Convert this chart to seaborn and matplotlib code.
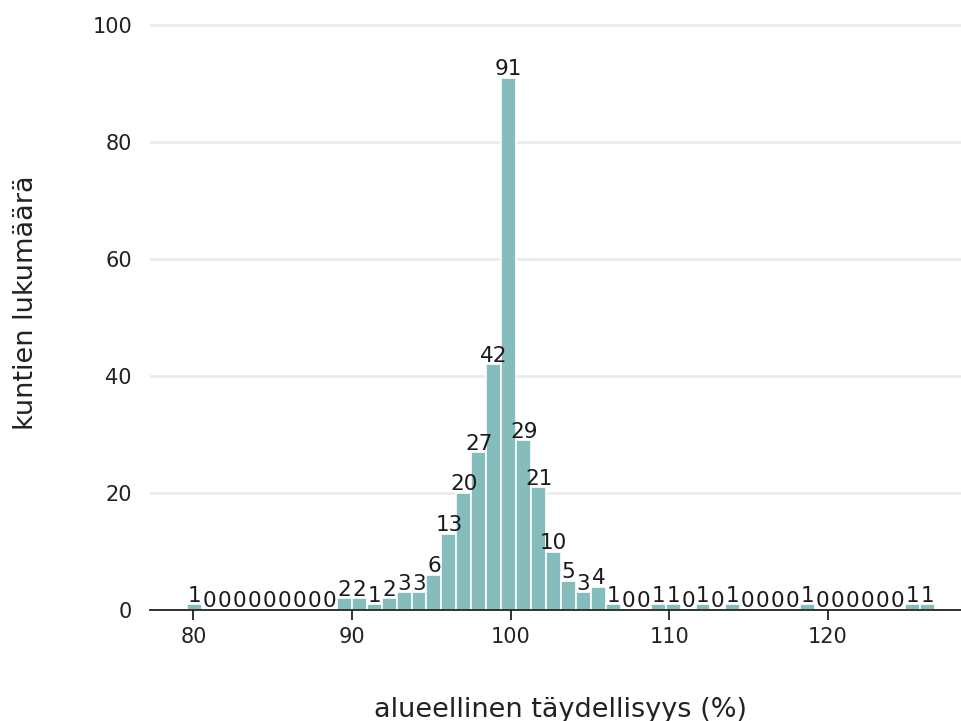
import numpy as np
import pandas as pd
import seaborn as sns
import matplotlib
matplotlib.use("Agg")
import matplotlib.pyplot as plt

# Histogram data: 50 bins between the data extremes
range_min = 79.62
range_max = 126.73
counts = [1, 0, 0, 0, 0, 0, 0, 0, 0, 0,
          2, 2, 1, 2, 3, 3, 6, 13, 20, 27,
          42, 91, 29, 21, 10, 5, 3, 4, 1, 0,
          0, 1, 1, 0, 1, 0, 1, 0, 0, 0,
          0, 1, 0, 0, 0, 0, 0, 0, 1, 1]
n_bins = len(counts)
edges = np.linspace(range_min, range_max, n_bins + 1)
centers = (edges[:-1] + edges[1:]) / 2
df = pd.DataFrame({"taydellisyys": centers, "lkm": counts})

xticks = [80, 90, 100, 110, 120]
yticks = [0, 20, 40, 60, 80, 100]

sns.set_style("white")
plt.rcParams['font.family'] = ['DejaVu Sans']

fig = plt.figure(figsize=(9.61, 7.21), dpi=100)
ax = fig.add_axes([150/961, 1 - 610/721, (972 - 150)/961, (610 + 4)/721])

sns.histplot(data=df, x="taydellisyys", weights="lkm", bins=n_bins,
             binrange=(range_min, range_max), color="#84bdbc", alpha=1.0,
             edgecolor="white", linewidth=1.2, ax=ax)

ax.bar_label(ax.containers[0], labels=[str(c) for c in counts],
             fontsize=15.5, color="#1a1a1a", padding=-1)

ax.set_ylim(0, 105)
ax.set_yticks(yticks)
ax.set_xticks(xticks)
ax.yaxis.grid(True, color="#ebebeb", linewidth=2)
ax.set_axisbelow(True)
for s in ["top", "right", "left"]:
    ax.spines[s].set_visible(False)
ax.spines["bottom"].set_color("#222222")
ax.spines["bottom"].set_linewidth(1.3)
ax.tick_params(axis="y", length=0, pad=13, labelsize=15, labelcolor="#222222")
ax.tick_params(axis="x", length=7, width=1.3, color="#222222", pad=5,
               labelsize=15, labelcolor="#222222", bottom=True)

ax.set_xlabel("alueellinen täydellisyys (%)", fontsize=19.5, labelpad=36, color="#222222")
ax.set_ylabel("kuntien lukumäärä", fontsize=19.5, labelpad=38, color="#222222")

fig.savefig("out.png", dpi=100)
